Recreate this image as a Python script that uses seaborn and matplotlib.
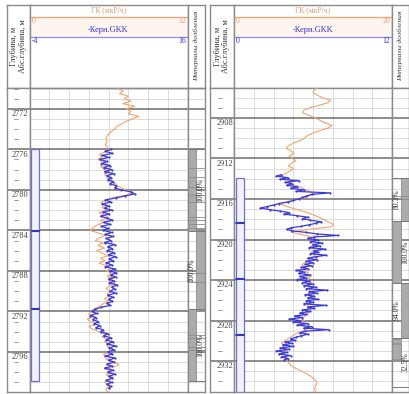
import numpy as np
import pandas as pd
import matplotlib
matplotlib.use("Agg")
import matplotlib.pyplot as plt
from matplotlib.patches import Rectangle
import seaborn as sns

sns.set_theme(style="white")
plt.rcParams["font.family"] = ["Liberation Serif", "DejaVu Serif"]

# ---------------- data: left well ----------------
L_range = (2769.9, 2799.9)
L_gk_start, L_gk_step = 2770.0, 0.25
L_gk = [6.7, 7.1, 6.85, 7.5, 7.2, 7.7, 7.1, 8.0, 7.35, 7.7, 7.5, 8.3,
        7.8, 7.3, 7.0, 6.6, 6.5, 6.2, 6.0, 5.85, 5.8, 5.9, 5.75, 5.9,
        6.0, 5.7, 5.3, 5.5, 5.2, 5.6, 5.9, 5.4, 5.8, 6.1, 5.7, 6.2,
        6.0, 6.4, 6.6, 6.9, 7.3, 7.9, 7.4, 6.4, 5.8, 5.4, 5.9, 5.5,
        5.9, 5.3, 5.7, 6.0, 5.4, 5.6, 5.1, 4.8, 4.6, 5.2, 5.8, 5.3,
        5.0, 5.6, 5.2, 5.7, 5.1, 5.5, 6.0, 5.4, 5.7, 5.3, 5.9, 6.2,
        5.8, 6.3, 5.9, 6.4, 6.0, 6.5, 6.1, 5.8, 6.2, 5.9, 6.0, 5.7,
        6.0, 5.6, 5.3, 4.9, 4.7, 4.5, 4.9, 4.4, 4.6, 5.0, 4.5, 4.8,
        5.3, 5.8, 5.5, 6.0, 5.7, 6.2, 5.9, 6.4, 6.0, 5.6, 6.1, 5.8,
        6.5, 6.8, 6.3, 5.9, 6.2, 5.8, 6.4, 6.0, 5.7, 6.1, 5.9, 5.8, 6.0]
L_gkk_start, L_gkk_step = 2776.0, 0.2
L_gkk = [6.3, 5.6, 6.5, 5.2, 6.0, 4.9, 5.8, 5.1, 6.2, 5.4,
         6.4, 5.5, 6.7, 5.8, 6.3, 5.9, 6.6, 6.2, 7.0, 6.8,
         7.6, 8.8, 9.3, 8.1, 6.9, 5.6, 6.3, 5.2, 6.0, 5.5,
         6.4, 5.3, 6.1, 5.0, 5.8, 6.5, 5.4, 6.2, 5.1, 5.9,
         5.3, 6.4, 5.6, 6.6, 5.7, 6.3, 5.5, 6.8, 5.9, 6.5,
         5.8, 6.7, 6.0, 6.9, 6.1, 6.6, 5.7, 6.4, 5.6, 6.8,
         6.2, 7.0, 6.3, 6.9, 6.0, 6.7, 6.1, 7.1, 6.4, 6.8,
         6.2, 6.9, 5.9, 6.6, 6.0, 6.5, 5.8, 6.2, 5.0, 4.3,
         3.9, 4.5, 3.7, 4.4, 4.0, 4.7, 4.2, 4.9, 4.4, 5.3,
         5.0, 5.9, 5.4, 6.3, 5.7, 6.6, 5.8, 6.9, 6.1, 6.7,
         5.9, 6.5, 5.6, 6.8, 6.0, 6.7, 5.8, 6.4, 5.5, 6.6,
         5.9, 6.8, 6.0, 6.5, 5.7, 6.4, 5.8, 6.3, 6.0]
L_gk_scale = (0, 12)
L_gkk_scale = (-4, 16)
L_core = (2776.0, 2798.9)
L_core_marks = [2784.1, 2791.8]
L_run_top = [2776.0, 2784.1, 2791.8]
L_run_bot = [2784.1, 2791.8, 2798.9]
L_run_side = [0, 1, 0]
L_run_label = ["100.0%", "100.0%", "100.0%"]
L_gray_top = [2776.0, 2784.1, 2791.8]
L_gray_bot = [2784.1, 2791.8, 2798.9]
L_gray_side = [0, 1, 0]
L_pieces = [2777.8, 2778.7, 2779.7, 2780.5, 2781.2, 2782.7, 2783.0, 2783.4,
            2783.8, 2788.2, 2789.1, 2794.3, 2794.6, 2795.5, 2795.8]

# ---------------- data: right well ----------------
R_range = (2905.0, 2935.0)
R_gk_start, R_gk_step = 2905.0, 0.25
R_gk = [10.6, 10.2, 10.0, 10.5, 11.2, 12.2, 11.9, 10.8, 9.6, 8.8, 8.7, 9.5,
        10.3, 10.9, 11.6, 12.4, 11.9, 10.9, 10.0, 9.3, 8.9, 8.3, 7.5, 6.9,
        6.6, 7.2, 7.6, 7.0, 7.4, 7.8, 7.2, 6.9, 7.5, 7.1, 6.4, 6.0,
        6.5, 7.4, 7.0, 8.2, 8.8, 9.6, 10.2, 9.4, 8.2, 6.8, 5.9, 6.7,
        7.8, 8.9, 9.8, 10.6, 11.3, 11.9, 12.6, 12.3, 9.5, 7.2, 8.5, 9.8,
        10.4, 9.7, 10.1, 9.6, 10.2, 9.8, 10.4, 9.9, 9.5, 9.0, 8.6, 9.1,
        8.8, 9.4, 9.0, 9.6, 9.2, 9.8, 9.3, 9.9, 9.5, 10.1, 9.6, 10.0,
        9.4, 9.8, 9.2, 9.6, 9.0, 9.5, 9.1, 8.6, 8.9, 8.2, 8.7, 9.4,
        8.8, 8.0, 7.4, 6.9, 6.4, 6.0, 6.5, 6.1, 6.6, 6.2, 6.7, 6.5,
        6.7, 7.0, 7.3, 7.9, 8.6, 9.2, 9.7, 10.1, 10.4, 10.5, 10.3, 10.2, 10.3]
R_gkk_start, R_gkk_step = 2913.6, 0.15
R_gkk = [3.6, 3.2, 4.1, 3.5, 4.9, 3.9, 4.4, 4.0, 4.8, 4.3,
         5.3, 4.7, 7.3, 5.9, 5.5, 5.2, 4.9, 4.5, 4.1, 3.4,
         3.0, 2.5, 2.0, 2.7, 3.5, 4.2, 3.8, 4.8, 5.6, 5.2,
         5.8, 6.6, 6.2, 5.7, 5.1, 4.3, 4.0, 4.4, 5.5, 6.3,
         7.9, 6.1, 5.6, 6.4, 5.8, 6.7, 6.0, 6.5, 5.7, 6.9,
         6.1, 6.4, 5.8, 7.0, 6.2, 5.6, 6.3, 5.5, 6.0, 5.4,
         5.9, 5.1, 5.6, 4.7, 5.3, 4.9, 5.8, 5.0, 5.5, 4.8,
         5.7, 5.2, 6.0, 5.3, 6.2, 5.5, 7.1, 5.7, 6.3, 5.4,
         6.1, 5.6, 6.4, 5.5, 6.0, 5.3, 7.0, 5.6, 6.1, 5.2,
         5.8, 5.0, 5.5, 4.6, 5.2, 4.2, 5.0, 4.5, 5.6, 4.8,
         5.9, 5.3, 7.2, 5.4, 5.0, 5.6, 5.1, 4.7, 4.3, 4.6,
         3.9, 4.4, 3.7, 4.5, 3.5, 4.2, 3.2, 4.0, 3.4, 4.3,
         3.6, 4.1, 3.8]
R_gk_scale = (0, 20)
R_gkk_scale = (0, 12)
R_core = (2913.9, 2936.0)
R_core_marks = [2918.4, 2923.9, 2929.4]
R_run_top = [2913.9, 2918.2, 2924.3, 2929.7]
R_run_bot = [2918.2, 2924.3, 2929.7, 2934.6]
R_run_side = [1, 0, 1, 0]
R_run_label = ["80.3%", "100.0%", "94.0%", "32.5%"]
R_gray_top = [2913.9, 2918.2, 2924.3, 2929.8, 2930.3]
R_gray_bot = [2918.2, 2924.3, 2929.7, 2930.2, 2931.8]
R_gray_side = [1, 0, 1, 0, 0]
R_pieces = [2915.7, 2916.0]

GK_TITLE = "ГК (мкР/ч)"
GKK_TITLE = "-Керн.GKK"
DEPTH_TITLE = "Глубина, м\nАбс.глубина, м"
RUN_TITLE = "Интервалы долбления"

# ---------------- style ----------------
W, H = 409, 394
ORANGE = "#f2a46c"
ORANGE_T = "#e89a70"
BLUE = "#3b3bd6"
BLUE_T = "#3232e0"
BLUE_L = "#8f8ff0"
FRAME = "#8a8a8a"
MAJOR = "#6e6e6e"
MINOR = "#d6d6d6"
HY0, HY1, BY1 = 5, 87.5, 391.5

fig = plt.figure(figsize=(W / 100, H / 100), dpi=100)
fig.patch.set_facecolor("white")


def ax_px(x0, y0, x1, y1):
    a = fig.add_axes([x0 / W, 1 - y1 / H, (x1 - x0) / W, (y1 - y0) / H])
    a.set_xticks([])
    a.set_yticks([])
    for s in a.spines.values():
        s.set_color(FRAME)
        s.set_linewidth(1.0)
    a.set_facecolor("white")
    return a


def panel(x0, xd, xt, xi, rng, gk_start, gk_step, gk, gkk_start, gkk_step, gkk,
          gk_scale, gkk_scale, core, core_marks, run_top, run_bot, run_side,
          run_label, gray_top, gray_bot, gray_side, pieces):
    top, bot = rng
    gk_depth = gk_start + gk_step * np.arange(len(gk))
    gkk_depth = gkk_start + gkk_step * np.arange(len(gkk))
    df_gk = pd.DataFrame({"depth": gk_depth, "val": gk})
    df_gkk = pd.DataFrame({"depth": gkk_depth, "val": gkk})

    # ---- header ----
    hd = ax_px(x0, HY0, xd, HY1)
    ht = ax_px(xd, HY0, xt, HY1)
    hi = ax_px(xt, HY0, xi, HY1)
    for a in (hd, ht, hi):
        a.set_xlim(0, 1)
        a.set_ylim(0, 1)
    hd.text(0.5, 0.5, DEPTH_TITLE, rotation=90, ha="center", va="center",
            fontsize=6, color="#333333", linespacing=1.15)
    hi.text(0.5, 0.5, RUN_TITLE, rotation=90, ha="center", va="center",
            fontsize=5.3, color="#333333", style="italic")
    ht.axhspan(0.61, 0.854, color="#fff4ee", lw=0)
    ht.axhline(0.854, color=ORANGE, lw=0.9)
    ht.axhline(0.61, color=BLUE_L, lw=0.9)
    ht.text(0.5, 0.935, GK_TITLE, color=ORANGE_T, ha="center", va="center", fontsize=5.5)
    ht.text(0.012, 0.81, str(gk_scale[0]), color=ORANGE_T, ha="left", va="center", fontsize=5.5)
    ht.text(0.988, 0.81, str(gk_scale[1]), color=ORANGE_T, ha="right", va="center", fontsize=5.5)
    ht.text(0.5, 0.70, GKK_TITLE, color=BLUE_T, ha="center", va="center", fontsize=6)
    ht.text(0.012, 0.565, str(gkk_scale[0]), color=BLUE_T, ha="left", va="center", fontsize=5.5)
    ht.text(0.988, 0.565, str(gkk_scale[1]), color=BLUE_T, ha="right", va="center", fontsize=5.5)

    # ---- body ----
    ad = ax_px(x0, HY1, xd, BY1)
    at = ax_px(xd, HY1, xt, BY1)
    ai = ax_px(xt, HY1, xi, BY1)
    ad.set_xlim(0, 1)
    ai.set_xlim(0, 2)
    at.set_xlim(*gk_scale)

    depths = list(range(int(np.ceil(top)), int(np.floor(bot)) + 1))
    majors = [d for d in depths if d % 4 == 0]
    minors = [d for d in depths if d % 4 != 0]

    for v in np.linspace(gk_scale[0], gk_scale[1], 9)[1:-1]:
        at.axvline(v, color=MINOR, lw=0.6, zorder=0)
    for a in (at, ai):
        for d in minors:
            a.axhline(d, color=MINOR, lw=0.6, zorder=0)
    for a in (ad, at, ai):
        for d in majors:
            a.axhline(d, color=MAJOR, lw=1.1, zorder=0.5)
    ty = ad.get_yaxis_transform()
    for d in minors:
        ad.plot([0.32, 0.5], [d, d], transform=ty, color="#8c8c8c", lw=0.6)
    for d in majors:
        ad.text(0.96, d + 0.12, str(d), transform=ty, ha="right", va="top",
                fontsize=6, color="#444444")

    # core interval column in track
    tt = at.get_yaxis_transform()
    at.add_patch(Rectangle((0.012, core[0]), 0.05, core[1] - core[0], transform=tt,
                           facecolor="#f1f1ff", edgecolor="#7070d8", lw=0.9, zorder=1))
    for m in core_marks:
        at.plot([0.012, 0.062], [m, m], transform=tt, color="#3535c8", lw=1.5, zorder=2)

    # curves
    sns.lineplot(data=df_gk, x="val", y="depth", orient="y", sort=False, estimator=None,
                 ax=at, color=ORANGE, lw=0.8, zorder=3)
    ab = at.twiny()
    ab.set_xlim(*gkk_scale)
    sns.lineplot(data=df_gkk, x="val", y="depth", orient="y", sort=False, estimator=None,
                 ax=ab, color=BLUE, lw=0.9, marker="o", markersize=1.6,
                 markeredgewidth=0, zorder=4)
    for a in (at, ab):
        a.set_xlabel("")
        a.set_ylabel("")
        a.set_xticks([])
        a.set_yticks([])
        a.set_ylim(bot, top)
    ab.set_xlim(*gkk_scale)
    at.set_xlim(*gk_scale)
    for s in ab.spines.values():
        s.set_visible(False)
    ad.set_ylim(bot, top)
    ai.set_ylim(bot, top)

    # run (drilling interval) column
    for t, b, s in zip(gray_top, gray_bot, gray_side):
        ai.add_patch(Rectangle((s, t), 1, b - t, facecolor="#ababab",
                               edgecolor="#8a8a8a", lw=0.6, zorder=1))
    for p in pieces:
        ai.axhline(p, color="#8a8a8a", lw=0.6, zorder=1.5)
    for t, b, s, lab in zip(run_top, run_bot, run_side, run_label):
        ai.axhline(t, color="#7a7a7a", lw=0.7, zorder=1.6)
        ai.axhline(b, color="#7a7a7a", lw=0.7, zorder=1.6)
        ai.text((1 - s) + 0.5, (t + b) / 2, lab, rotation=90, ha="center", va="center",
                fontsize=5.5, color="#333333", zorder=3)


panel(7, 29.5, 187.5, 204.5, L_range, L_gk_start, L_gk_step, L_gk, L_gkk_start,
      L_gkk_step, L_gkk, L_gk_scale, L_gkk_scale, L_core, L_core_marks, L_run_top,
      L_run_bot, L_run_side, L_run_label, L_gray_top, L_gray_bot, L_gray_side, L_pieces)
panel(210, 234, 392, 409.5, R_range, R_gk_start, R_gk_step, R_gk, R_gkk_start,
      R_gkk_step, R_gkk, R_gk_scale, R_gkk_scale, R_core, R_core_marks, R_run_top,
      R_run_bot, R_run_side, R_run_label, R_gray_top, R_gray_bot, R_gray_side, R_pieces)

fig.savefig("out.png", dpi=100, facecolor="white")
